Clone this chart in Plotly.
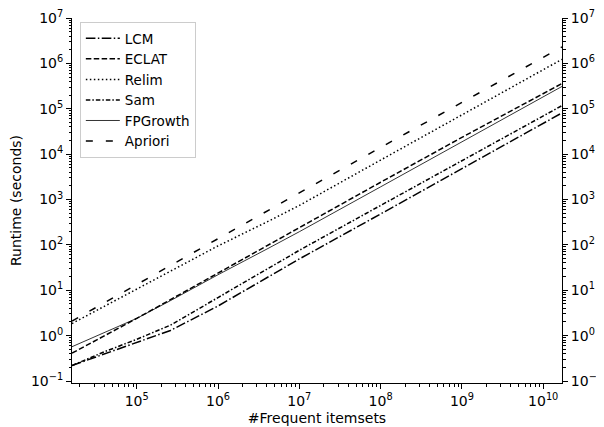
import plotly.graph_objects as go

# Data
itemsets = [1.6e4, 4e4, 1e5, 2.6e5, 1e6, 4e6, 1e7, 1e8, 1e9, 1.7e10]
lcm = [0.22, 0.39, 0.69, 1.3, 4.5, 19, 49, 480, 4800, 8.1e4]
eclat = [0.41, 0.98, 2.4, 6.2, 24, 95, 240, 2400, 23400, 3.6e5]
relim = [1.85, 4.4, 10.5, 26, 95, 320, 740, 7400, 74000, 1.23e6]
sam = [0.22, 0.44, 0.83, 1.7, 6.9, 29, 76, 740, 7200, 1.17e5]
fpgrowth = [0.57, 1.17, 2.4, 5.9, 22, 81, 195, 1900, 18600, 3.1e5]
apriori = [2.1, 5.3, 13.5, 35, 140, 560, 1400, 14000, 140000, 2.3e6]

names = ["LCM", "ECLAT", "Relim", "Sam", "FPGrowth", "Apriori"]
series = [lcm, eclat, relim, sam, fpgrowth, apriori]
dashes = ["9.6px,2.4px,1.5px,2.4px", "5.5px,2.4px", "1.5px,2.5px",
          "4.5px,2px,1.5px,2px", "solid", "7px,13px"]
widths = [1.5, 1.5, 1.5, 1.5, 0.8, 1.5]

x_ticks = [1e5, 1e6, 1e7, 1e8, 1e9, 1e10]
x_ticktext = ["10<sup>5</sup>", "10<sup>6</sup>", "10<sup>7</sup>", "10<sup>8</sup>",
              "10<sup>9</sup>", "10<sup>10</sup>"]
y_ticks = [1e-1, 1e0, 1e1, 1e2, 1e3, 1e4, 1e5, 1e6, 1e7]
y_ticktext = ["10<sup>\u22121</sup>", "10<sup>0</sup>", "10<sup>1</sup>", "10<sup>2</sup>",
              "10<sup>3</sup>", "10<sup>4</sup>", "10<sup>5</sup>", "10<sup>6</sup>",
              "10<sup>7</sup>"]

def minor_vals(lo, hi):
    out = []
    for e in range(lo, hi + 1):
        for m in range(2, 10):
            out.append(m * 10.0 ** e)
    return out

fig = go.Figure()
for n, s, d, w in zip(names, series, dashes, widths):
    fig.add_trace(go.Scatter(x=itemsets, y=s, name=n, mode="lines",
                             line=dict(color="black", width=w, dash=d)))
fig.add_trace(go.Scatter(x=[None], y=[None], yaxis="y2", showlegend=False,
                         hoverinfo="skip"))

font = dict(family="DejaVu Sans", size=14, color="black")
yax = dict(type="log", range=[-1.044, 7.0], autorange=False, automargin=False,
           tickmode="array", tickvals=y_ticks, ticktext=y_ticktext,
           ticks="outside", ticklen=5, tickwidth=1, tickcolor="black",
           showline=True, linecolor="black", linewidth=1, showgrid=False,
           zeroline=False, tickfont=font,
           minor=dict(tickmode="array", tickvals=minor_vals(-2, 7), ticks="outside",
                      ticklen=2.5, tickwidth=0.8, tickcolor="black", showgrid=False))

# page body has an 8px default margin; figure sized so the plot area lands at x 72-562, y 18-383
fig.update_layout(
    width=596, height=419,
    margin=dict(l=64, r=42, t=10, b=44),
    paper_bgcolor="white", plot_bgcolor="white",
    font=font,
    showlegend=True,
    legend=dict(x=0.016, y=0.989, xanchor="left", yanchor="top",
                bgcolor="white", bordercolor="#cccccc", borderwidth=1,
                font=dict(family="DejaVu Sans", size=13.5, color="black"),
                itemwidth=34, tracegroupgap=0),
    xaxis=dict(type="log", range=[4.204, 10.231], autorange=False, automargin=False,
               tickmode="array", tickvals=x_ticks, ticktext=x_ticktext,
               ticks="outside", ticklen=5, tickwidth=1, tickcolor="black",
               showline=True, linecolor="black", linewidth=1, showgrid=False,
               zeroline=False, tickfont=font,
               title=dict(text="#Frequent itemsets", font=font, standoff=5),
               minor=dict(tickmode="array", tickvals=minor_vals(4, 10), ticks="outside",
                          ticklen=2.5, tickwidth=0.8, tickcolor="black", showgrid=False)),
    yaxis=dict(**yax, title=dict(text="Runtime (seconds)", font=font, standoff=12)),
    yaxis2=dict(**yax, overlaying="y", side="right"),
)

fig.write_html("out.html")
